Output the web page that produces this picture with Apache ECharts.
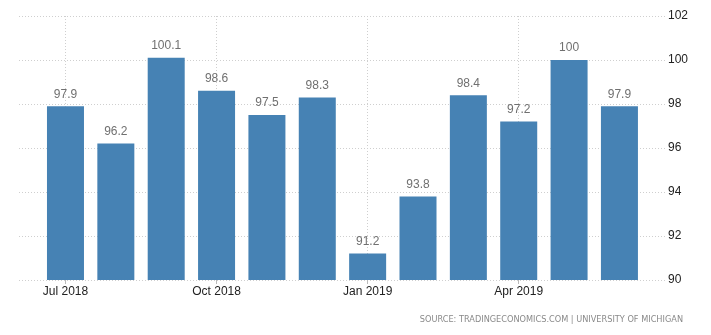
<!DOCTYPE html>
<html><head><meta charset="utf-8">
<script src="https://cdn.jsdelivr.net/npm/echarts@6/dist/echarts.min.js"></script>
<style>html,body{margin:0;padding:0;background:#fff}#c{width:711px;height:335px}</style>
</head><body><div id="c"></div>
<script>
const categories = ['Jul 2018','Aug 2018','Sep 2018','Oct 2018','Nov 2018','Dec 2018','Jan 2019','Feb 2019','Mar 2019','Apr 2019','May 2019','Jun 2019'];
const values = [97.9, 96.2, 100.1, 98.6, 97.5, 98.3, 91.2, 93.8, 98.4, 97.2, 100, 97.9];
const yTicks = [90, 92, 94, 96, 98, 100, 102];
const sourceText = 'SOURCE: TRADINGECONOMICS.COM | UNIVERSITY OF MICHIGAN';

const W = 711;
const gTop = 16, gBottom = 55;
const bgLeft = 19, bgRight = 665;
const band = 50.36;
const mainLeft = 40.3;
const mainWidth = band * categories.length;
const c0 = mainLeft + band / 2;
const gridColor = '#cfcfcf';
const font = 'Liberation Sans, Arial, sans-serif';

const chart = echarts.init(document.getElementById('c'), null, {renderer: 'canvas'});
chart.setOption({
  animation: false,
  backgroundColor: '#fff',
  grid: [
    {left: bgLeft, right: W - bgRight, top: gTop, bottom: gBottom},
    {left: c0, width: band * 9, top: gTop, bottom: gBottom},
    {left: mainLeft, width: mainWidth, top: gTop, bottom: gBottom}
  ],
  xAxis: [
    {gridIndex: 0, type: 'value', show: false, min: 0, max: 1},
    {gridIndex: 1, type: 'value', min: 0, max: 9, interval: 3,
     axisLine: {show: false}, axisTick: {show: false}, axisLabel: {show: false},
     splitLine: {show: true, lineStyle: {color: gridColor, type: [1, 2], width: 1}}},
    {gridIndex: 2, type: 'category', data: categories, boundaryGap: true,
     axisLine: {show: false},
     axisTick: {show: true, alignWithLabel: true, length: 4, lineStyle: {color: '#bbb'},
       interval: function (i) { return i % 3 === 0; }},
     axisLabel: {interval: function (i) { return i % 3 === 0; }, margin: 6,
       color: '#222', fontSize: 12, fontFamily: font},
     splitLine: {show: false}}
  ],
  yAxis: [
    {gridIndex: 0, type: 'value', position: 'right', min: yTicks[0], max: yTicks[yTicks.length - 1], interval: 2,
     axisLine: {show: false}, axisTick: {show: false},
     axisLabel: {margin: 3, color: '#222', fontSize: 12, fontFamily: font},
     splitLine: {show: true, lineStyle: {color: gridColor, type: [1, 2], width: 1}}},
    {gridIndex: 1, type: 'value', show: false, min: 90, max: 102},
    {gridIndex: 2, type: 'value', show: false, min: 90, max: 102}
  ],
  series: [{
    type: 'bar', xAxisIndex: 2, yAxisIndex: 2,
    data: values, barWidth: 37,
    itemStyle: {color: '#4682b4'},
    label: {show: true, position: 'top', distance: 6, color: '#707070', fontSize: 12, fontFamily: font,
      formatter: function (p) { return String(p.value); }}
  }],
  graphic: [{
    type: 'text', right: W - 683, top: 316,
    style: {text: sourceText, fill: '#8a8a8a', font: '8.2px DejaVu Sans, sans-serif'}
  }]
});
</script></body></html>
